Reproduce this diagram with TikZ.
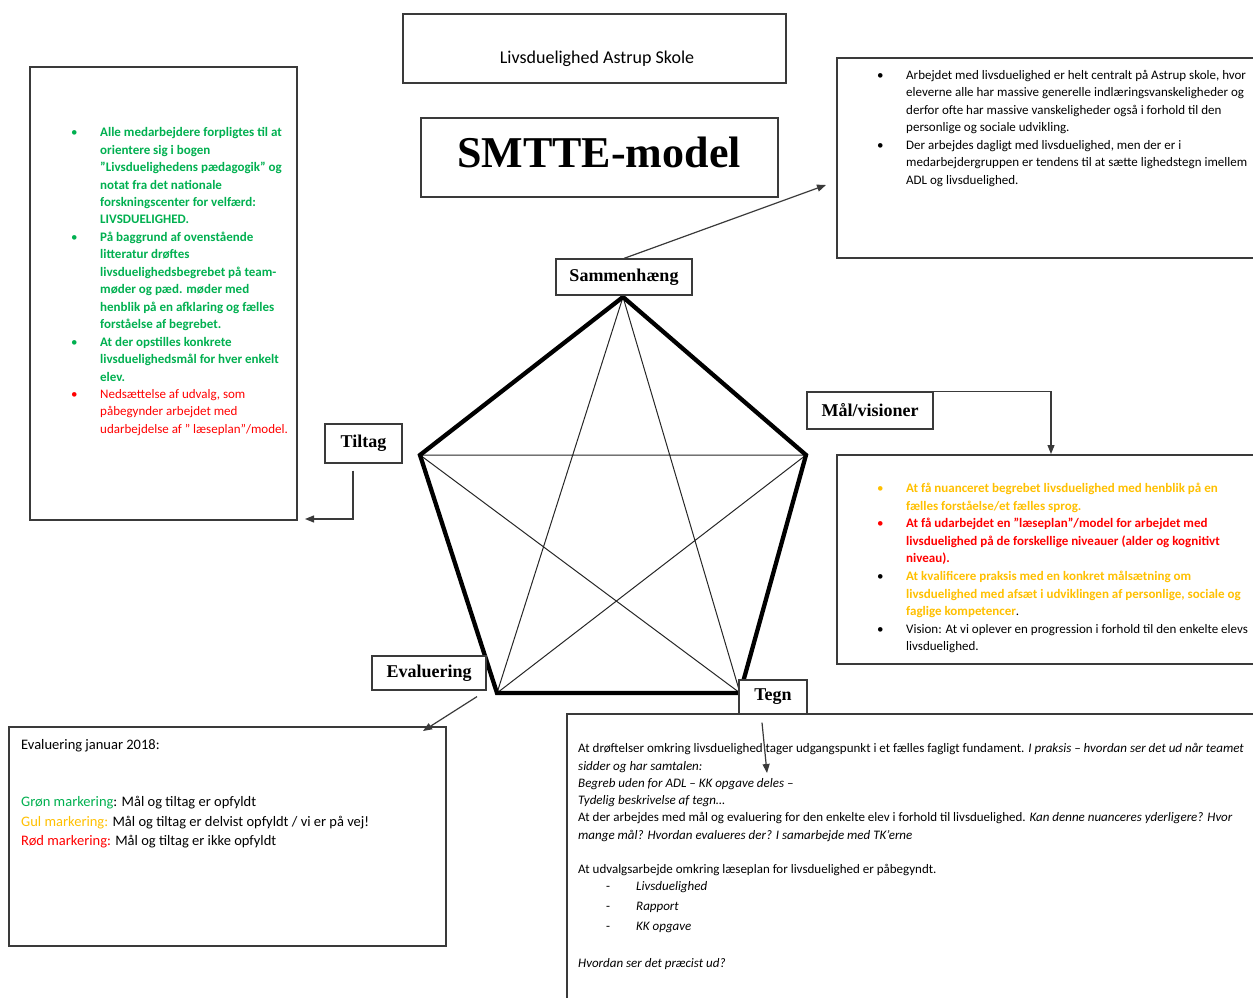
\documentclass[tikz,border=0pt]{standalone}
\usepackage{fontspec}
\setmainfont{Carlito}
\newfontfamily\tnr{Liberation Serif}
\usetikzlibrary{arrows.meta}
\definecolor{grn}{HTML}{00B050}
\definecolor{ylw}{HTML}{FFC000}
\definecolor{rd}{HTML}{FF0000}
\definecolor{bord}{HTML}{3A3A3A}
\newcommand{\G}[1]{{\color{grn}\bfseries #1}}
\newcommand{\R}[1]{{\color{rd}#1}}
\newcommand{\Rb}[1]{{\color{rd}\bfseries #1}}
\newcommand{\Y}[1]{{\color{ylw}\bfseries #1}}
\newcommand{\bul}[1]{\makebox[29pt][l]{\color{#1}\textbullet}}
\begin{document}
\begin{tikzpicture}[x=1pt,y=-1pt,
  box/.style={draw=bord, line width=1.2pt, fill=white, inner sep=0pt},
  lbl/.style={box, font=\tnr\bfseries\fontsize{18}{20}\selectfont},
  txt/.style={anchor=north west, inner sep=0pt},
  arr/.style={draw=bord, line width=1.2pt, -{Triangle[length=9pt,width=7pt]}},
  thick5/.style={line width=4.3pt, line join=miter, black},
  thin5/.style={line width=1pt, black!85}]
\useasboundingbox (0,0) rectangle (1253,998);
\clip (0,0) rectangle (1253,998);

% big boxes
\node[box, minimum width=383, minimum height=69] (title) at (594.5,48.5) {};
\node[inner sep=0pt, font=\fontsize{18}{21}\selectfont] (titletext) at (597,58.5) {Livsduelighed Astrup Skole};
\node[box, minimum width=357, minimum height=79] (smtte) at (599.5,157.5) {};
\node[inner sep=0pt, font=\tnr\bfseries\fontsize{44}{48}\selectfont] (smttetext) at (599,152) {SMTTE-model};
\node[box, minimum width=421, minimum height=200] (tr) at (1047.5,158) {};
\node[box, minimum width=267, minimum height=453] (left) at (163.5,293.5) {};
\node[box, minimum width=421, minimum height=209] (rm) at (1047.5,559.5) {};
\node[box, minimum width=437, minimum height=219] (bl) at (227.5,836.5) {};
\node[box, minimum width=691, minimum height=291] (br) at (912.5,859.5) {};

% pentagon
\coordinate (P1) at (623,297);
\coordinate (P2) at (806,455);
\coordinate (P3) at (740,693);
\coordinate (P4) at (497,693);
\coordinate (P5) at (420,455);
\draw[thin5] (P1) -- (P3) -- (P5) -- (P2) -- (P4) -- cycle;
\draw[thick5] (P1) -- (P2) -- (P3) -- (P4) -- (P5) -- cycle;

% labels
\node[lbl, minimum width=136, minimum height=36] (sam) at (624,277) {Sammenhæng};
\node[lbl, minimum width=126, minimum height=37] (mal) at (870,410.5) {Mål/visioner};
\node[lbl, minimum width=77, minimum height=39] (til) at (363.5,443.5) {Tiltag};
\node[lbl, minimum width=114, minimum height=34] (ev) at (429,673) {Evaluering};
\node[lbl, minimum width=68, minimum height=34] (tegn) at (773,697) {Tegn};

% connectors
\coordinate (samtip) at (826,185);
\coordinate (maltip) at (1051,454);
\coordinate (tiltip) at (305,519);
\coordinate (evtip) at (423,731);
\coordinate (tegntip) at (767,773);
\draw[arr] (sam.north) -- (samtip);
\draw[arr] ([xshift=-6pt]mal.north east) -| (maltip);
\draw[arr] ([xshift=-10.5pt,yshift=-7pt]til.south) |- (tiltip);
\draw[arr] ([xshift=48pt,yshift=-6pt]ev.south) -- (evtip);
\draw[arr] ([xshift=-11pt,yshift=-8pt]tegn.south) -- (tegntip);

% left box text
\node[txt, font=\fontsize{13}{17.45}\selectfont] (lefttext) at (71,124.3) {%
\begin{tabular}{@{}l@{}l@{}}
\bul{grn} & \G{Alle medarbejdere forpligtes til at}\\
& \G{orientere sig i bogen}\\
& \G{”Livsduelighedens pædagogik” og}\\
& \G{notat fra det nationale}\\
& \G{forskningscenter for velfærd:}\\
& \G{LIVSDUELIGHED.}\\
\bul{grn} & \G{På baggrund af ovenstående}\\
& \G{litteratur drøftes}\\
& \G{livsduelighedsbegrebet på team-}\\
& \G{møder og pæd. møder med}\\
& \G{henblik på en afklaring og fælles}\\
& \G{forståelse af begrebet.}\\
\bul{grn} & \G{At der opstilles konkrete}\\
& \G{livsduelighedsmål for hver enkelt}\\
& \G{elev.}\\
\bul{rd} & \R{Nedsættelse af udvalg, som}\\
& \R{påbegynder arbejdet med}\\
& \R{udarbejdelse af ” læseplan”/model.}
\end{tabular}};

% top right text
\node[txt, font=\fontsize{13}{17.5}\selectfont] (trtext) at (877,67) {%
\begin{tabular}{@{}l@{}l@{}}
\bul{black} & Arbejdet med livsduelighed er helt centralt på Astrup skole, hvor\\
& eleverne alle har massive generelle indlæringsvanskeligheder og\\
& derfor ofte har massive vanskeligheder også i forhold til den\\
& personlige og sociale udvikling.\\
\bul{black} & Der arbejdes dagligt med livsduelighed, men der er i\\
& medarbejdergruppen er tendens til at sætte lighedstegn imellem\\
& ADL og livsduelighed.
\end{tabular}};

% right middle text
\node[txt, font=\fontsize{13}{17.55}\selectfont] (rmtext) at (877,480.3) {%
\begin{tabular}{@{}l@{}l@{}}
\bul{ylw} & \Y{At få nuanceret begrebet livsduelighed med henblik på en}\\
& \Y{fælles forståelse/et fælles sprog.}\\
\bul{rd} & \Rb{At få udarbejdet en ”læseplan”/model for arbejdet med}\\
& \Rb{livsduelighed på de forskellige niveauer (alder og kognitivt}\\
& \Rb{niveau).}\\
\bul{black} & \Y{At kvalificere praksis med en konkret målsætning om}\\
& \Y{livsduelighed med afsæt i udviklingen af personlige, sociale og}\\
& \Y{faglige kompetencer}.\\
\bul{black} & Vision: At vi oplever en progression i forhold til den enkelte elevs\\
& livsduelighed.
\end{tabular}};

% bottom left text
\node[txt, font=\fontsize{14.5}{19.2}\selectfont] (bltext) at (21,735.6) {%
\begin{tabular}{@{}l@{}}
Evaluering januar 2018:\\
\\
\\
{\color{grn}Grøn markering}: Mål og tiltag er opfyldt\\
{\color{ylw}Gul markering:} Mål og tiltag er delvist opfyldt / vi er på vej!\\
{\color{rd}Rød markering:} Mål og tiltag er ikke opfyldt
\end{tabular}};

% bottom right text
\node[txt, font=\fontsize{13}{17.3}\selectfont] (brtext) at (578,740.4) {%
\begin{tabular}{@{}l@{}}
At drøftelser omkring livsduelighed tager udgangspunkt i et fælles fagligt fundament. \textit{I praksis – hvordan ser det ud når teamet}\\
\textit{sidder og har samtalen:}\\
\textit{Begreb uden for ADL – KK opgave deles –}\\
\textit{Tydelig beskrivelse af tegn…}\\
At der arbejdes med mål og evaluering for den enkelte elev i forhold til livsduelighed. \textit{Kan denne nuanceres yderligere? Hvor}\\
\textit{mange mål? Hvordan evalueres der? I samarbejde med TK’erne}\\
\\
At udvalgsarbejde omkring læseplan for livsduelighed er påbegyndt.
\end{tabular}};
\node[txt, font=\fontsize{13}{20}\selectfont] (brlist) at (606,876) {%
\begin{tabular}{@{}p{30pt}@{}l@{}}
- & \textit{Livsduelighed}\\
- & \textit{Rapport}\\
- & \textit{KK opgave}
\end{tabular}};
\node[anchor=base west, inner sep=0pt, font=\fontsize{13}{15}\selectfont\itshape] (brlast) at (578,967) {Hvordan ser det præcist ud?};
\end{tikzpicture}
\end{document}
